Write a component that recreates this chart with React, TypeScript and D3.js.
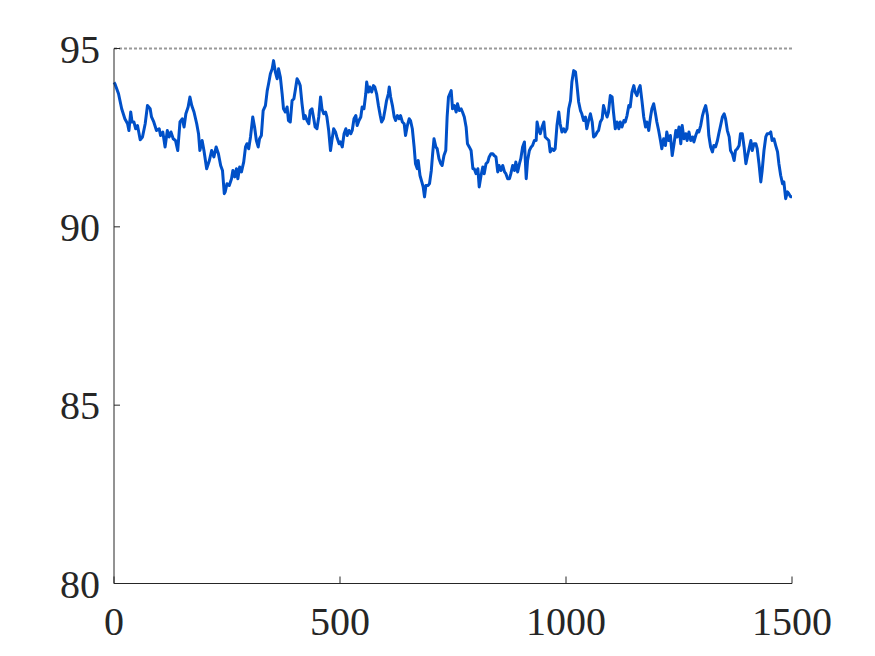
import React from "react";
import * as d3 from "d3";

const steps: number[] = [
  0, 2, 10, 17, 24, 30, 33, 37, 40, 44, 48, 52, 58, 63, 69, 74, 80, 83, 88, 94,
  100, 103, 108, 113, 118, 122, 126, 131, 136, 141, 146, 151, 155, 159, 164, 168, 172, 177, 183, 187,
  190, 195, 199, 205, 211, 216, 221, 226, 231, 236, 240, 244, 246, 250, 255, 260, 263, 267, 271, 274,
  278, 282, 287, 291, 294, 298, 302, 307, 311, 315, 319, 322, 326, 330, 335, 339, 342, 346, 350, 353,
  357, 361, 364, 368, 372, 375, 379, 383, 386, 390, 394, 398, 401, 405, 409, 412, 416, 420, 423, 427,
  431, 434, 438, 442, 445, 449, 453, 457, 460, 464, 468, 471, 475, 479, 482, 486, 490, 493, 498, 501,
  505, 509, 513, 516, 520, 524, 527, 531, 535, 538, 542, 546, 549, 553, 557, 559, 563, 566, 570, 574,
  577, 581, 585, 589, 592, 596, 600, 603, 607, 609, 612, 616, 620, 623, 627, 631, 634, 638, 642, 645,
  649, 653, 656, 660, 664, 667, 671, 673, 677, 681, 684, 687, 690, 695, 698, 702, 705, 708, 712, 715,
  719, 723, 726, 730, 734, 737, 740, 746, 749, 753, 757, 760, 764, 768, 771, 775, 779, 782, 786, 790,
  794, 797, 801, 805, 808, 812, 816, 819, 823, 827, 830, 834, 838, 841, 845, 849, 852, 856, 860, 864,
  867, 871, 875, 878, 882, 886, 889, 893, 897, 900, 904, 908, 912, 915, 919, 923, 926, 930, 934, 936,
  940, 943, 947, 951, 954, 958, 962, 965, 969, 973, 976, 980, 984, 987, 991, 995, 998, 1002, 1006, 1010,
  1013, 1017, 1021, 1024, 1028, 1032, 1035, 1039, 1043, 1046, 1050, 1054, 1058, 1061, 1065, 1069, 1072, 1076, 1080, 1083,
  1087, 1091, 1094, 1098, 1102, 1105, 1109, 1113, 1117, 1120, 1124, 1128, 1131, 1135, 1139, 1142, 1146, 1150, 1153, 1157,
  1161, 1164, 1168, 1172, 1176, 1179, 1183, 1187, 1190, 1194, 1198, 1201, 1205, 1209, 1212, 1216, 1220, 1223, 1227, 1231,
  1235, 1239, 1243, 1246, 1250, 1254, 1257, 1261, 1265, 1268, 1272, 1276, 1280, 1283, 1287, 1291, 1294, 1298, 1302, 1305,
  1309, 1313, 1316, 1320, 1324, 1327, 1331, 1335, 1338, 1342, 1346, 1350, 1353, 1357, 1361, 1364, 1368, 1372, 1375, 1379,
  1383, 1386, 1390, 1394, 1398, 1401, 1405, 1409, 1412, 1416, 1420, 1423, 1427, 1431, 1434, 1438, 1442, 1445, 1449, 1453,
  1456, 1460, 1464, 1468, 1471, 1475, 1479, 1482, 1486, 1490, 1493, 1497, 1500,
];

const values: number[] = [
  94.05, 94.01, 93.73, 93.31, 93.03, 92.89, 92.70, 93.22, 92.94, 92.94, 92.75, 92.84, 92.44, 92.52, 92.89, 93.40, 93.31, 93.08, 92.94, 92.70,
  92.75, 92.56, 92.66, 92.24, 92.70, 92.52, 92.66, 92.47, 92.42, 92.14, 92.94, 93.03, 92.80, 93.17, 93.36, 93.64, 93.40, 93.22, 92.89, 92.61,
  92.14, 92.42, 92.14, 91.63, 91.86, 92.14, 91.96, 92.24, 92.05, 91.72, 91.58, 90.93, 90.98, 91.21, 91.16, 91.35, 91.58, 91.40, 91.63, 91.35,
  91.68, 91.54, 91.82, 92.24, 92.33, 92.19, 92.52, 93.08, 92.80, 92.42, 92.24, 92.47, 92.56, 93.26, 93.40, 93.82, 94.01, 94.29, 94.43, 94.66,
  94.34, 94.15, 94.43, 94.20, 93.73, 93.31, 93.22, 93.36, 92.98, 92.94, 93.54, 93.59, 93.82, 94.15, 94.06, 93.96, 93.45, 93.03, 93.12, 92.98,
  92.89, 93.26, 93.31, 93.03, 92.80, 92.75, 93.08, 93.64, 93.31, 93.17, 93.22, 93.08, 92.70, 92.14, 92.42, 92.75, 92.66, 92.52, 92.33, 92.38,
  92.24, 92.61, 92.75, 92.56, 92.70, 92.61, 92.70, 93.03, 93.12, 92.84, 92.98, 93.08, 93.36, 93.31, 93.73, 94.06, 93.78, 93.92, 93.78, 93.96,
  93.92, 93.73, 93.40, 93.12, 92.94, 93.03, 93.31, 93.54, 93.73, 93.92, 93.64, 93.40, 93.08, 92.98, 93.12, 93.03, 93.12, 92.94, 92.89, 92.56,
  92.84, 93.03, 92.98, 92.75, 92.24, 91.77, 91.63, 91.86, 91.44, 91.26, 91.12, 90.84, 91.16, 91.16, 91.21, 91.58, 92.05, 92.47, 92.24, 92.19,
  91.91, 91.77, 91.72, 92.00, 92.14, 93.08, 93.64, 93.82, 93.31, 93.40, 93.22, 93.45, 93.26, 93.31, 93.22, 93.08, 92.80, 92.33, 92.24, 92.14,
  91.63, 91.63, 91.49, 91.63, 91.12, 91.44, 91.68, 91.49, 91.77, 91.82, 91.96, 92.05, 92.05, 92.00, 91.96, 91.54, 91.72, 91.58, 91.72, 91.54,
  91.49, 91.35, 91.35, 91.49, 91.72, 91.58, 91.82, 91.54, 91.77, 91.91, 92.24, 92.38, 91.35, 91.86, 92.14, 92.24, 92.28, 92.42, 92.42, 92.94,
  92.70, 92.61, 92.80, 92.94, 92.52, 92.47, 92.42, 92.10, 92.19, 92.14, 92.19, 92.84, 93.22, 92.89, 92.66, 92.75, 92.66, 92.75, 93.31, 93.54,
  94.06, 94.38, 94.34, 94.01, 93.50, 93.26, 93.17, 92.98, 93.08, 92.75, 92.98, 93.17, 92.94, 92.52, 92.56, 92.66, 92.70, 92.94, 93.03, 93.40,
  93.22, 93.08, 93.22, 93.68, 93.64, 93.22, 92.75, 92.94, 92.75, 92.94, 92.80, 92.98, 92.94, 93.12, 93.40, 93.36, 93.78, 93.96, 93.78, 93.68,
  93.87, 93.96, 93.54, 93.08, 92.80, 92.94, 92.70, 93.08, 93.31, 93.45, 93.17, 92.94, 92.70, 92.42, 92.19, 92.47, 92.28, 92.66, 92.42, 92.56,
  92.00, 92.33, 92.70, 92.52, 92.80, 92.33, 92.84, 92.47, 92.61, 92.42, 92.66, 92.42, 92.52, 92.38, 92.56, 92.70, 92.66, 92.84, 93.12, 93.26,
  93.40, 93.12, 92.56, 92.24, 92.10, 92.28, 92.24, 92.42, 92.61, 92.84, 93.08, 93.17, 93.03, 92.70, 92.52, 92.14, 92.05, 91.86, 92.14, 92.19,
  92.28, 92.61, 92.61, 92.24, 91.77, 91.96, 92.19, 92.42, 92.14, 92.33, 92.33, 92.19, 91.77, 91.26, 91.58, 92.14, 92.52, 92.61, 92.61, 92.66,
  92.42, 92.47, 92.28, 92.10, 91.77, 91.44, 91.21, 91.26, 90.79, 90.98, 90.93, 90.84, 90.84,
];

const xTicks: number[] = [0, 500, 1000, 1500];
const yTicks: number[] = [80, 85, 90, 95];
const referenceLevel = 95;

const W = 875;
const H = 656;
const left = 114;
const right = 792;
const top = 48.5;
const bottom = 583.5;

export default function App() {
  const x = d3.scaleLinear().domain([0, 1500]).range([left, right]);
  const y = d3.scaleLinear().domain([80, 95]).range([bottom, top]);
  const pts: [number, number][] = steps.map((s, i) => [s, values[i]]);
  const line = d3
    .line<[number, number]>()
    .x((d) => x(d[0]))
    .y((d) => y(d[1]));
  const axisColor = "#262626";
  const font = "'Liberation Serif', 'Times New Roman', serif";
  return (
    <svg
      width={W}
      height={H}
      style={{ position: "absolute", left: 0, top: 0, background: "#fff" }}
    >
      <rect x={0} y={0} width={W} height={H} fill="#fff" />
      <line
        x1={x(0)}
        x2={x(1500)}
        y1={y(referenceLevel)}
        y2={y(referenceLevel)}
        stroke="#9a9a9a"
        strokeWidth={2}
        strokeDasharray="3,2"
      />
      <path d={line(pts) || ""} fill="none" stroke="#0050c8" strokeWidth={3} strokeLinejoin="round" />
      <line x1={left} x2={left} y1={top} y2={bottom} stroke={axisColor} strokeWidth={1} />
      <line x1={left} x2={right} y1={bottom} y2={bottom} stroke={axisColor} strokeWidth={1} />
      {yTicks.map((t) => (
        <g key={"y" + t}>
          <line x1={left} x2={left + 6} y1={y(t)} y2={y(t)} stroke={axisColor} strokeWidth={1} />
          <text
            x={100}
            y={y(t) + 14}
            textAnchor="end"
            fontFamily={font}
            fontSize={40}
            fill={axisColor}
          >
            {t}
          </text>
        </g>
      ))}
      {xTicks.map((t) => (
        <g key={"x" + t}>
          <line x1={x(t)} x2={x(t)} y1={bottom} y2={bottom - 7} stroke={axisColor} strokeWidth={1} />
          <text
            x={x(t)}
            y={635}
            textAnchor="middle"
            fontFamily={font}
            fontSize={40}
            fill={axisColor}
          >
            {t}
          </text>
        </g>
      ))}
    </svg>
  );
}
